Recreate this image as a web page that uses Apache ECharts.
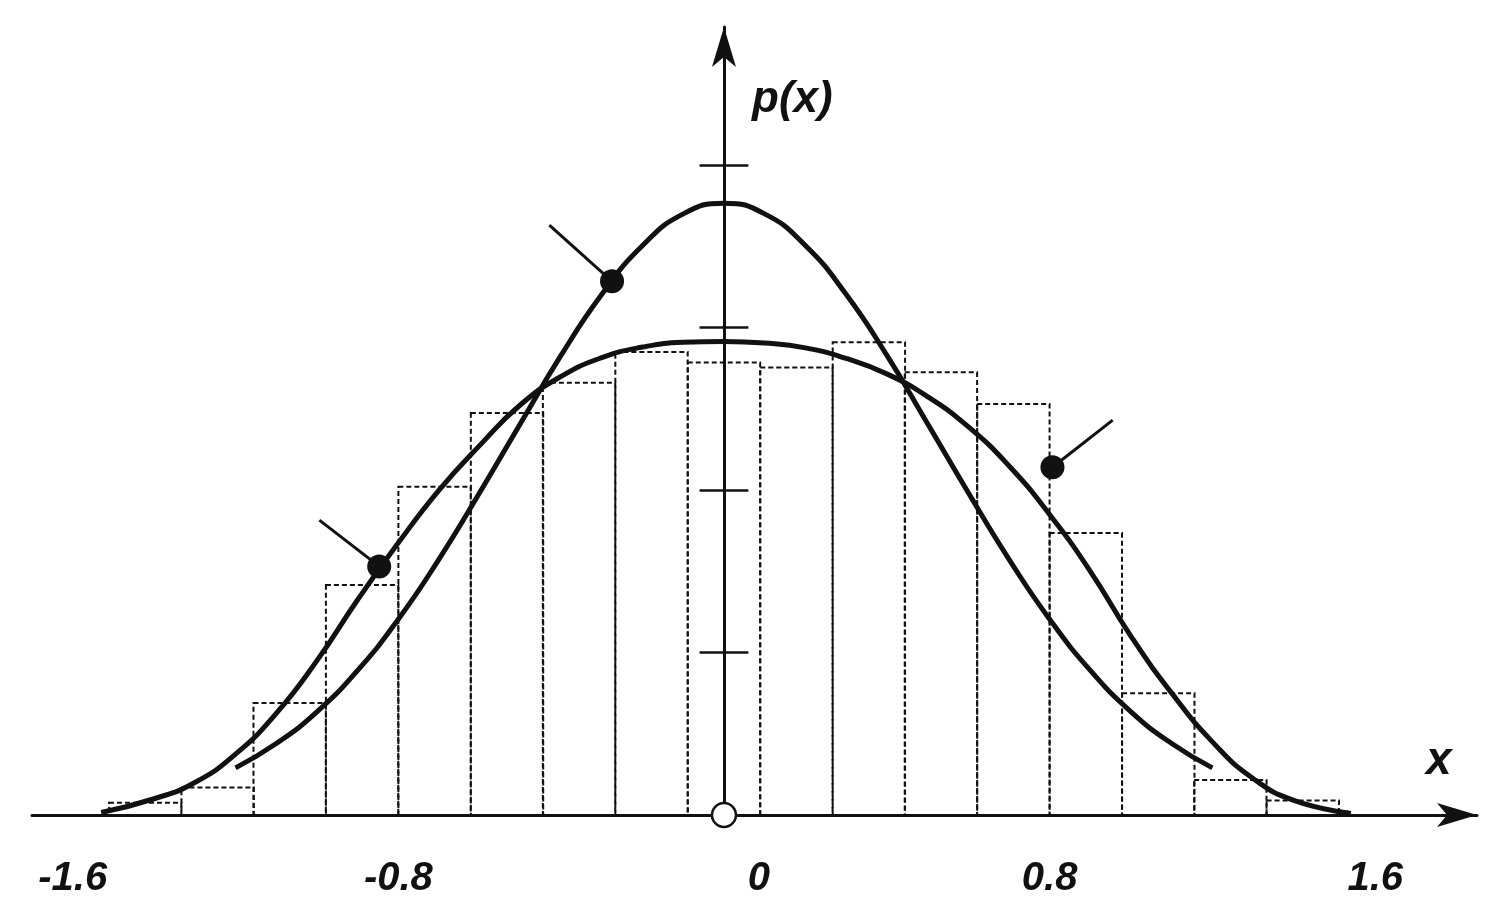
<!DOCTYPE html>
<html>
<head>
<meta charset="utf-8">
<script src="https://cdn.jsdelivr.net/npm/echarts@6/dist/echarts.min.js"></script>
<style>html,body{margin:0;padding:0;background:#fff}#chart{width:1499px;height:917px}</style>
</head>
<body>
<div id="chart"></div>
<script>
// histogram (a): bin centres and heights
var binWidth = 0.1778;
var binCenters = [-1.422,-1.244,-1.067,-0.889,-0.711,-0.533,-0.356,-0.178,0,0.178,0.356,0.533,0.711,0.889,1.067,1.244,1.422];
var binHeights = [0.015,0.034,0.138,0.283,0.404,0.495,0.532,0.570,0.557,0.551,0.582,0.545,0.506,0.347,0.150,0.043,0.018];

// curve (b)
var curveBx = [-1.2,-1.1,-1.0,-0.9,-0.8,-0.7,-0.6,-0.5,-0.4,-0.3,-0.2,-0.1,0,0.1,0.2,0.3,0.4,0.5,0.6,0.7,0.8,0.9,1.0,1.1,1.2];
var curveBy = [0.058,0.088,0.127,0.178,0.241,0.315,0.397,0.482,0.566,0.641,0.701,0.740,0.753,0.740,0.701,0.641,0.566,0.482,0.397,0.315,0.241,0.178,0.127,0.088,0.058];

// curve (c)
var curveCx = [-1.53,-1.4,-1.3,-1.2,-1.1,-1.0,-0.9,-0.8,-0.7,-0.6,-0.5,-0.4,-0.3,-0.2,-0.1,0,0.1,0.2,0.3,0.4,0.5,0.6,0.7,0.8,0.9,1.0,1.1,1.2,1.3,1.4,1.54];
var curveCy = [0.003,0.02,0.04,0.075,0.125,0.19,0.265,0.335,0.40,0.455,0.505,0.54,0.563,0.576,0.582,0.583,0.581,0.575,0.562,0.543,0.515,0.478,0.43,0.37,0.30,0.22,0.15,0.09,0.045,0.018,0.002];

var xTicks = [-1.6,-0.8,0,0.8,1.6];
var yTicks = [0.2,0.4,0.6,0.8];

// markers with leader lines
var callouts = [
    {name:'(a)', dot:[0.807,0.428], end:[0.955,0.486], text:[1.06,0.511]},
    {name:'(b)', dot:[-0.275,0.657], end:[-0.429,0.726], text:[-0.523,0.748]},
    {name:'(c)', dot:[-0.847,0.306], end:[-0.994,0.363], text:[-1.075,0.388]}
];

var chart = echarts.init(document.getElementById('chart'));
var font = {fontFamily:'Liberation Sans', fontWeight:'bold', fontStyle:'italic', color:'#111'};

function zip(xs, ys){
    var out = [];
    for (var i = 0; i < xs.length; i++) out.push([xs[i], ys[i]]);
    return out;
}

var series = [];

series.push({
    type:'custom',
    data: zip(binCenters, binHeights),
    z:2,
    renderItem:function(params, api){
        var c = api.value(0), h = api.value(1);
        var p0 = api.coord([c - binWidth/2, h]);
        var p1 = api.coord([c + binWidth/2, 0]);
        return {type:'rect', shape:{x:p0[0], y:p0[1], width:p1[0]-p0[0], height:p1[1]-p0[1]},
            style:{fill:'none', stroke:'#111', lineWidth:2, lineDash:[5,3]}};
    }
});

// tick marks crossing the axes
var tickLines = [];
[-1.6,-0.8,0.8].forEach(function(v){ tickLines.push([{coord:[v,-0.037]},{coord:[v,0.18]}]); });
yTicks.forEach(function(v){ tickLines.push([{coord:[-0.06,v]},{coord:[0.06,v]}]); });
series.push({
    type:'line', data:[], z:3, clip:false,
    markLine:{symbol:'none', silent:true, label:{show:false},
        lineStyle:{color:'#111', type:'solid', width:2.5}, data:tickLines}
});
series.push({
    type:'line', data:[], z:3, clip:false,
    markLine:{symbol:'none', silent:true, label:{show:false},
        lineStyle:{color:'#777', type:'solid', width:1}, data:[[{coord:[1.6,-0.037]},{coord:[1.6,0.18]}]]}
});

series.push({type:'line', data:zip(curveBx, curveBy), smooth:true, showSymbol:false, z:5,
    lineStyle:{color:'#111', width:5}});
series.push({type:'line', data:zip(curveCx, curveCy), smooth:true, showSymbol:false, z:5,
    lineStyle:{color:'#111', width:5}});

callouts.forEach(function(c){
    series.push({type:'line', data:[c.dot, c.end], showSymbol:false, z:6,
        lineStyle:{color:'#111', width:3}});
    series.push({type:'scatter', data:[c.dot], symbolSize:24, z:7,
        itemStyle:{color:'#111', opacity:1}});
    series.push({type:'scatter', data:[c.text], symbolSize:1, z:7,
        itemStyle:{opacity:0},
        label:Object.assign({show:true, formatter:c.name, position:'inside', fontSize:42}, font)});
});

// y tick labels, placed beside the axis at x = 0
series.push({type:'scatter', data:yTicks.map(function(v){ return [0, v]; }), symbolSize:1, z:7,
    itemStyle:{opacity:0},
    label:Object.assign({show:true, position:'right', distance:36, offset:[0,6], fontSize:42,
        formatter:function(p){ return p.value[1].toFixed(1); }}, font)});

// origin circle
series.push({type:'scatter', data:[[0,0]], symbolSize:24, z:8, clip:false,
    itemStyle:{color:'#fff', borderColor:'#111', borderWidth:2.5, opacity:1}});

var option = {
    animation:false,
    grid:{left:32, right:22, top:27, bottom:102, outerBoundsMode:'none', containLabel:false},
    xAxis:{
        type:'value', min:-1.7, max:1.85,
        splitLine:{show:false},
        axisLine:{symbol:['none','arrow'], symbolSize:[18,40], lineStyle:{color:'#111', width:3}},
        axisTick:{show:false},
        axisLabel:Object.assign({customValues:xTicks, fontSize:40, margin:44,
            formatter:function(v){ return v === 0 ? '{z|0}' : v.toFixed(1); },
            rich:{z:Object.assign({fontSize:40, padding:[0,0,0,70]}, font)}}, font)
    },
    yAxis:{
        type:'value', min:0, max:0.97,
        splitLine:{show:false},
        axisLine:{onZero:true, symbol:['none','arrow'], symbolSize:[18,40], lineStyle:{color:'#111', width:3}},
        axisTick:{show:false},
        axisLabel:{show:false}
    },
    graphic:[
        {type:'text', left:752, top:78, style:{text:'p(x)', fontSize:44, fill:'#111', fontWeight:'bold', fontStyle:'italic', fontFamily:'Liberation Sans'}},
        {type:'text', left:1426, top:738, style:{text:'x', fontSize:46, fill:'#111', fontWeight:'bold', fontStyle:'italic', fontFamily:'Liberation Sans'}}
    ],
    series:series
};
chart.setOption(option);
</script>
</body>
</html>
